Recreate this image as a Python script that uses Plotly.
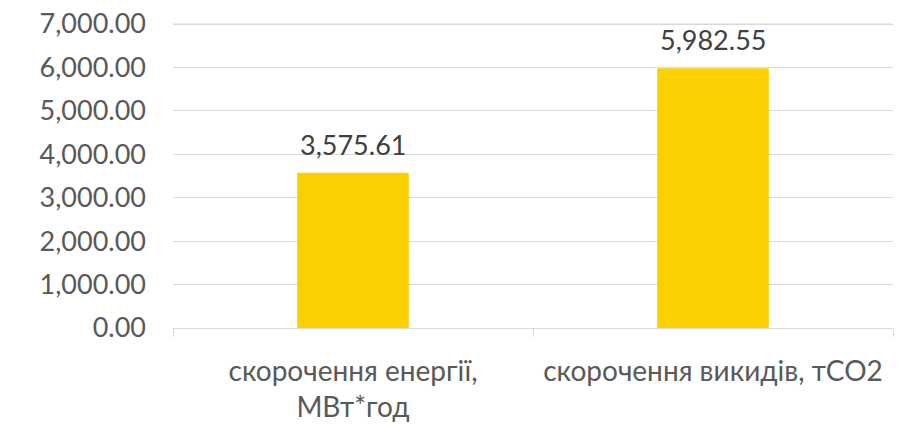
import plotly.graph_objects as go

categories = ["скорочення енергії,<br>МВт*год", "скорочення викидів, тСО2"]
values = [3575.61, 5982.55]
y_ticks = [0, 1000, 2000, 3000, 4000, 5000, 6000, 7000]

FONT = "Lato"
SIZE = 27
fig = go.Figure(go.Bar(
    x=categories, y=values,
    marker=dict(color="#FAD000", line=dict(width=0)),
    cliponaxis=False,
))

for c, v in zip(categories, values):
    fig.add_annotation(
        x=c, y=v, text=f"{v:,.2f}", showarrow=False,
        yanchor="bottom", yshift=10,
        font=dict(size=SIZE, color="#404040", family=FONT),
    )

# top gridline (plotly drops gridline at the plot edge)
fig.add_shape(type="line", xref="paper", yref="y", x0=0, x1=1,
              y0=y_ticks[-1], y1=y_ticks[-1],
              line=dict(color="#D9D9D9", width=1), layer="below")

fig.update_layout(
    width=923, height=433,
    margin=dict(l=173, r=30, t=11, b=105, autoexpand=False),
    paper_bgcolor="white", plot_bgcolor="white",
    bargap=0.69,
    showlegend=False,
    font=dict(family=FONT, size=SIZE, color="#595959"),
)
fig.update_yaxes(
    range=[0, 7300], tickvals=y_ticks, tickformat=",.2f",
    showgrid=True, gridcolor="#D9D9D9", gridwidth=1,
    zeroline=False, showline=False, ticks="",
    ticklabelstandoff=26, ticklabeloverflow="allow",
    tickfont=dict(size=SIZE, color="#595959"),
    automargin=False,
)
fig.update_xaxes(
    showline=True, linecolor="#D9D9D9", linewidth=1,
    ticks="outside", tickson="boundaries", ticklen=8, tickcolor="#D9D9D9",
    showgrid=False,
    tickfont=dict(size=28, color="#595959"),
    ticklabelstandoff=18,
    automargin=False,
)

fig.write_html("out.html", config={"displayModeBar": False},
               post_script="document.body.style.margin='0';")
